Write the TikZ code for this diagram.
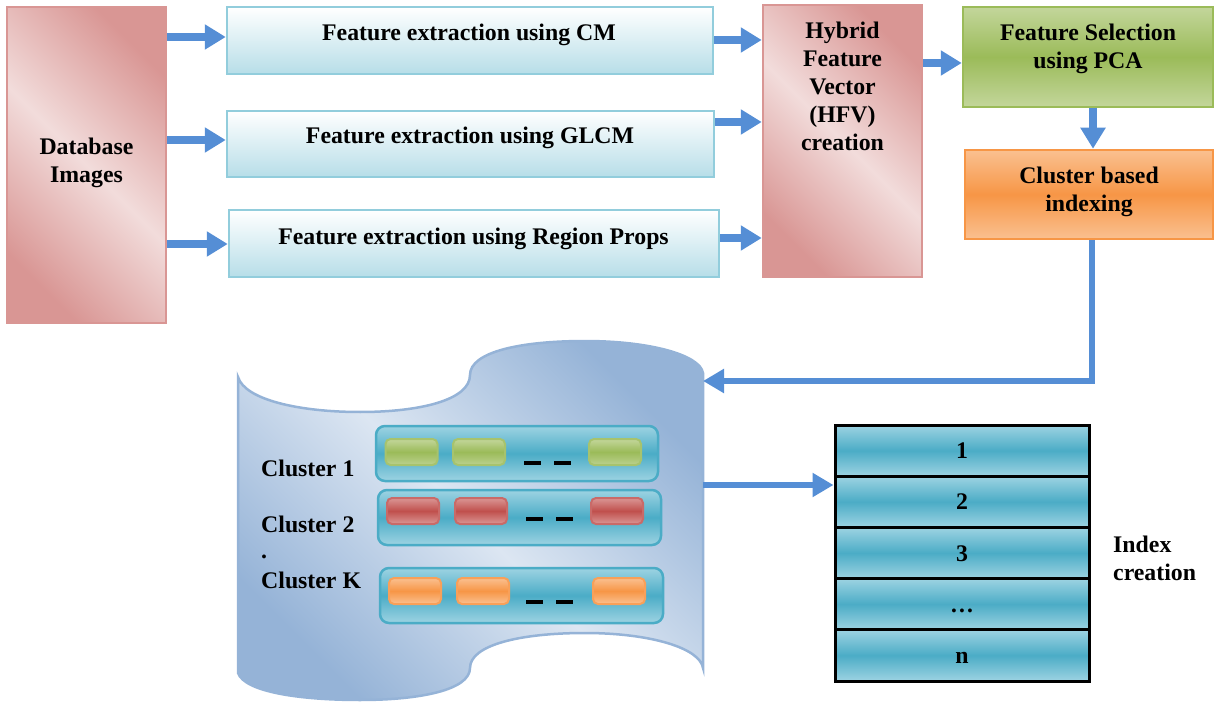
\documentclass[tikz,border=0pt]{standalone}
\usepackage{fontspec}
\setmainfont{Liberation Serif}
\usetikzlibrary{arrows.meta}
\definecolor{pinkD}{HTML}{D99694}
\definecolor{pinkL}{HTML}{F2DCDB}
\definecolor{featL}{HTML}{B7DEE8}
\definecolor{featB}{HTML}{92CDDC}
\definecolor{grn}{HTML}{9BBB59}
\definecolor{grnL}{HTML}{C3D69B}
\definecolor{org}{HTML}{F79646}
\definecolor{orgL}{HTML}{FAC090}
\definecolor{tealC}{HTML}{4BACC6}
\definecolor{tealL}{HTML}{9DD3E2}
\definecolor{redC}{HTML}{C0504D}
\definecolor{redL}{HTML}{DA9694}
\definecolor{stL}{HTML}{DCE6F2}
\definecolor{stD}{HTML}{95B3D7}
\definecolor{arrowblue}{HTML}{558ED5}
\tikzset{
  txt/.style={font=\fontsize{23.8}{28}\selectfont\bfseries, inner sep=0pt, align=center},
  box/.style={rectangle, inner sep=0pt, line width=2.5pt},
  pinkbox/.style={box, draw=pinkD, left color=pinkD, right color=pinkD, middle color=pinkL, shading angle=-45},
  featbox/.style={box, draw=featB, top color=white, bottom color=featL},
  grnbox/.style={box, draw=grn, top color=grnL, bottom color=grnL, middle color=grn},
  orgbox/.style={box, draw=org, top color=orgL, bottom color=orgL, middle color=org},
  rowbox/.style={box, rounded corners=9pt, draw=tealC, top color=tealL, bottom color=tealL, middle color=tealC},
  gblock/.style={box, line width=2pt, rounded corners=5pt, minimum width=52pt, minimum height=26pt, draw=grn!70!grnL, top color=grnL, bottom color=grnL!80!grn, middle color=grn},
  rblock/.style={box, line width=2pt, rounded corners=5pt, minimum width=52pt, minimum height=26pt, draw=redC!85!white, top color=redL, bottom color=redL, middle color=redC},
  oblock/.style={box, line width=2pt, rounded corners=5pt, minimum width=52pt, minimum height=26pt, draw=org!90!white, top color=orgL, bottom color=orgL, middle color=org},
  dashbar/.style={line width=4pt, black},
  idxrow/.style={box, draw=black, line width=3pt, minimum width=254pt, minimum height=51.2pt, top color=tealL, bottom color=tealL, middle color=tealC, font=\fontsize{23.8}{28}\selectfont\bfseries, text height=16pt, text depth=0pt},
  bigarrow/.style={draw=arrowblue, line width=8pt, -{Triangle[length=21pt,width=24pt]}},
  midarrow/.style={draw=arrowblue, line width=6pt, -{Triangle[length=21pt,width=23pt]}},
}
\begin{document}
\begin{tikzpicture}[x=1pt,y=-1pt]
\useasboundingbox (0,0) rectangle (1215,711);

% top row boxes
\node[pinkbox, minimum width=159pt, minimum height=316pt] (db) at (86.5,165) {};
\node[txt] (dbt) at (86.5,162.7) {Database\\Images};

\node[featbox, minimum width=486pt, minimum height=67pt] (fcm) at (470,40.5) {};
\node[txt, anchor=base] (fcmt) at (469,41) {Feature extraction using CM};
\node[featbox, minimum width=487pt, minimum height=66pt] (fglcm) at (470.5,144) {};
\node[txt, anchor=base] (fglcmt) at (470,144) {Feature extraction using GLCM};
\node[featbox, minimum width=490pt, minimum height=67pt] (frp) at (474,243.5) {};
\node[txt, anchor=base] (frpt) at (473.5,245) {Feature extraction using Region Props};

\node[pinkbox, minimum width=159pt, minimum height=272pt] (hfv) at (842.5,141) {};
\node[txt] (hfvt) at (842.5,86.2) {Hybrid\\Feature\\Vector\\(HFV)\\creation};

\node[grnbox, minimum width=250pt, minimum height=100pt] (fs) at (1088,57) {};
\node[txt] (fst) at (1088,48.7) {Feature Selection\\using PCA};

\node[orgbox, minimum width=248pt, minimum height=89pt] (cib) at (1089,194.5) {};
\node[txt] (cibt) at (1089,191.7) {Cluster based\\indexing};

% arrows top
\draw[bigarrow] (db.east |- 0,37) -- (fcm.west |- 0,37);
\draw[bigarrow] (db.east |- 0,140) -- (fglcm.west |- 0,140);
\draw[bigarrow] (db.east |- 0,244) -- (frp.west |- 0,244);
\draw[bigarrow] (fcm.east |- 0,40) -- (hfv.west |- 0,40);
\draw[bigarrow] (fglcm.east |- 0,122) -- (hfv.west |- 0,122);
\draw[bigarrow] (frp.east |- 0,238) -- (hfv.west |- 0,238);
\draw[bigarrow] (hfv.east |- 0,63) -- (fs.west |- 0,63);
\draw[bigarrow] (fs.south -| 1093,0) -- (cib.north -| 1093,0);

% storage shape
\path[draw=stD, line width=2.5pt, left color=stD, right color=stD, middle color=stL, shading angle=-45]
  (238,377) .. controls (245,400) and (300,412) .. (360,412)
  .. controls (420,412) and (470,400) .. (470,375)
  .. controls (470,352) and (520,341) .. (585,341)
  .. controls (650,341) and (700,355) .. (703,373)
  -- (703,668)
  .. controls (700,648) and (650,633) .. (585,633)
  .. controls (520,633) and (470,645) .. (470,668)
  .. controls (470,690) and (420,700) .. (360,700)
  .. controls (300,700) and (245,692) .. (238,673) -- cycle;
\coordinate (stIn) at (703,381);
\coordinate (stOut) at (703,485);

% cluster rows
\node[rowbox, minimum width=282pt, minimum height=55pt] (c1) at (517,453.5) {};
\node[rowbox, minimum width=283pt, minimum height=55pt] (c2) at (519.5,517.5) {};
\node[rowbox, minimum width=283pt, minimum height=55pt] (c3) at (521.5,595.5) {};

\node[gblock] (g1) at (411.5,452) {};
\node[gblock] (g2) at (479,452) {};
\node[gblock] (g3) at (615,452) {};
\node[rblock] (r1b) at (413,511) {};
\node[rblock] (r2b) at (481,511) {};
\node[rblock] (r3b) at (617,511) {};
\node[oblock] (o1) at (415,591) {};
\node[oblock] (o2) at (483,591) {};
\node[oblock] (o3) at (619,591) {};

\draw[dashbar] (524,463) -- (541,463);
\draw[dashbar] (554,463) -- (571,463);
\draw[dashbar] (526,519) -- (543,519);
\draw[dashbar] (556,519) -- (573,519);
\draw[dashbar] (526,602) -- (543,602);
\draw[dashbar] (556,602) -- (573,602);

\node[txt, anchor=base west] (l1) at (261,476) {Cluster 1};
\node[txt, anchor=base west] (l2) at (261,532) {Cluster 2};
\node[txt, anchor=base west] (ldot) at (261,558) {.};
\node[txt, anchor=base west] (lk) at (261,588) {Cluster K};

% index table
\node[idxrow] (i1) at (962,450.6) {1};
\node[idxrow] (i2) at (962,501.8) {2};
\node[idxrow] (i3) at (962,553.0) {3};
\node[idxrow] (i4) at (962,604.2) {…};
\node[idxrow] (i5) at (962,655.4) {n};
\node[txt, align=left, anchor=west] (ict) at (1113,558.2) {Index\\creation};

% lower connectors
\draw[midarrow] (cib.south -| 1092,0) |- (stIn);
\draw[midarrow] (stOut) -- (stOut -| i2.west);
\end{tikzpicture}
\end{document}
